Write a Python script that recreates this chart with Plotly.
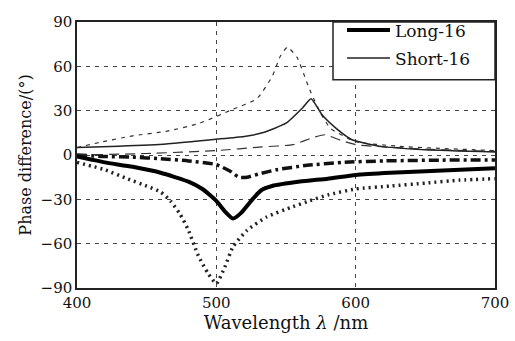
import plotly.graph_objects as go

# ---- data ----
long_solid_wl = [400, 410, 420, 440, 460, 480, 490, 500, 506, 512, 518, 525, 532, 540, 560, 580, 600, 625, 650, 675, 700]
long_solid_val = [-1, -3, -5, -8, -12, -18, -23, -31, -38, -43, -39, -31, -24, -21, -18, -16, -13.5, -12, -11, -10, -9]

long_star_wl = [400, 420, 436, 450, 460, 467, 474, 480, 487, 494, 500, 506, 512, 522, 536, 555, 567, 580, 600, 625, 650, 675, 700]
long_star_val = [-5, -10, -16, -21, -25, -31, -40, -51, -68, -80, -87, -76, -62, -51, -42, -35, -31, -27, -23, -21, -19, -17, -16]

long_dd_wl = [400, 420, 440, 460, 480, 500, 510, 516, 522, 530, 543, 565, 590, 620, 660, 700]
long_dd_val = [0, -1, -1.5, -2.5, -4, -6.5, -11, -15, -15, -13, -10, -7, -5, -4, -3.5, -3.3]

short_solid_wl = [400, 430, 464, 498, 520, 533, 550, 562, 568, 576, 586, 597, 617, 650, 700]
short_solid_val = [5, 6, 7.5, 10.5, 12.5, 15, 21.5, 32, 38, 27, 18, 10.5, 6, 3.5, 2]

short_dash_wl = [400, 416, 440, 464, 488, 512, 529, 540, 546, 551, 558, 565, 568, 575, 582, 600, 630, 660, 700]
short_dash_val = [5, 8.5, 13, 16, 21.5, 31, 38, 53, 67, 73, 66, 49, 42, 28, 18, 9, 6, 4.5, 3]

short_dd_wl = [400, 450, 500, 533, 555, 570, 578, 589, 600, 630, 660, 700]
short_dd_val = [0, 1, 3, 5.5, 7, 12, 13.7, 10, 7, 5, 3.5, 2.5]

x_ticks = [400, 500, 600, 700]
y_ticks = [-90, -60, -30, 0, 30, 60, 90]

legend_names = ["Long-16", "Short-16"]

FONT = "DejaVu Serif"

fig = go.Figure()

SM = 0.5
fig.add_trace(go.Scatter(x=long_star_wl, y=long_star_val, mode="lines",
                         line=dict(color="#222", width=3.5, dash="2px,4px", shape="spline", smoothing=SM),
                         showlegend=False))
fig.add_trace(go.Scatter(x=long_dd_wl, y=long_dd_val, mode="lines",
                         line=dict(color="#111", width=3.5, dash="10px,4px,3px,4px", shape="spline", smoothing=SM),
                         showlegend=False))
fig.add_trace(go.Scatter(x=short_dash_wl, y=short_dash_val, mode="lines",
                         line=dict(color="#333", width=1.2, dash="4px,5px", shape="spline", smoothing=SM),
                         showlegend=False))
fig.add_trace(go.Scatter(x=short_dd_wl, y=short_dd_val, mode="lines",
                         line=dict(color="#333", width=1.2, dash="10px,6px", shape="spline", smoothing=SM),
                         showlegend=False))
fig.add_trace(go.Scatter(x=short_solid_wl, y=short_solid_val, mode="lines",
                         line=dict(color="#222", width=1.5, shape="spline", smoothing=SM),
                         name=legend_names[1], legendgroup="b", legendrank=2))
fig.add_trace(go.Scatter(x=long_solid_wl, y=long_solid_val, mode="lines",
                         line=dict(color="#000", width=4, shape="spline", smoothing=SM),
                         name=legend_names[0], legendgroup="a", legendrank=1))

axis_common = dict(
    showline=True, linecolor="#222", linewidth=1.5, mirror=True,
    showgrid=True, gridcolor="#444", gridwidth=1, griddash="4px,5px",
    zeroline=False, ticks="", automargin=False,
    tickfont=dict(family=FONT, size=15, color="#111"),
)

fig.update_layout(
    width=515, height=341,
    margin=dict(l=77, r=20, t=12, b=53),
    paper_bgcolor="white", plot_bgcolor="white",
    font=dict(family=FONT, color="#111"),
    xaxis=dict(range=[400, 700], tickvals=x_ticks,
               title=dict(text="Wavelength <i>λ</i> /nm", font=dict(family=FONT, size=18), standoff=6),
               **axis_common),
    yaxis=dict(range=[-90, 90], tickvals=y_ticks,
               title=dict(text="Phase difference/(°)", font=dict(family=FONT, size=16), standoff=5),
               **axis_common),
    legend=dict(x=(342 - 77) / 418, y=1 + 10 / 276, xanchor="left", yanchor="top",
                bgcolor="rgba(0,0,0,0)", borderwidth=0,
                font=dict(family=FONT, size=17), traceorder="grouped",
                itemwidth=43, tracegroupgap=3),
    shapes=[dict(type="rect", xref="paper", yref="paper",
                 x0=(333 - 77) / 418, x1=1, y0=(288 - 72) / 276, y1=1,
                 fillcolor="white", line=dict(color="#222", width=1.5), layer="above")],
)

fig.write_html("out.html")
